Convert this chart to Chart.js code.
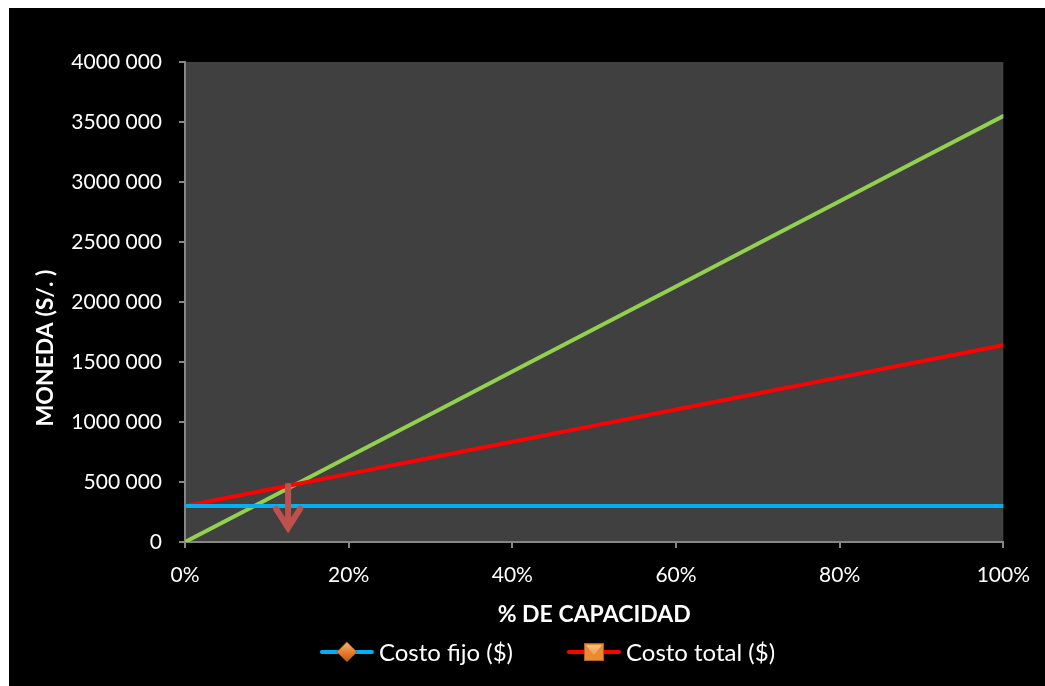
<!DOCTYPE html>
<html>
<head>
<meta charset="utf-8">
<script src="https://cdn.jsdelivr.net/npm/chart.js@4/dist/chart.umd.min.js"></script>
<style>
  html, body { margin: 0; padding: 0; background: #ffffff; }
  #wrap { position: absolute; left: 9px; top: 8px; width: 1036px; height: 678px; background: #000000; }
  canvas { display: block; }
</style>
</head>
<body>
<div id="wrap"><canvas id="c" width="1036" height="678"></canvas></div>
<script>
// % de capacidad utilizada
const capacidad = [0, 10, 20, 30, 40, 50, 60, 70, 80, 90, 100];

// Costos e ingresos en moneda (S/.)
const costoFijo  = [300000, 300000, 300000, 300000, 300000, 300000, 300000, 300000, 300000, 300000, 300000];
const costoTotal = [300000, 434000, 568000, 702000, 836000, 970000, 1104000, 1238000, 1372000, 1506000, 1640000];
const ingresos   = [0, 355000, 710000, 1065000, 1420000, 1775000, 2130000, 2485000, 2840000, 3195000, 3550000];

// Etiquetas de los ejes
const yTickLabels = ['0', '500 000', '1000 000', '1500 000', '2000 000', '2500 000', '3000 000', '3500 000', '4000 000'];
const xTickLabels = ['0%', '20%', '40%', '60%', '80%', '100%'];
const tituloY = 'MONEDA (S/. )';
const tituloX = '% DE CAPACIDAD';

// Flecha que señala el punto de equilibrio (x en %, y en moneda)
const flechaEquilibrio = { x: 12.6, desde: 490000, hasta: 85000 };

const FONT = 'Lato, "Open Sans", sans-serif';
const AXIS_GRAY = '#868686';

// Fondo gris del área de trazado
const plotBackground = {
  id: 'plotBackground',
  beforeDraw(chart) {
    const { ctx, chartArea: a } = chart;
    ctx.save();
    ctx.fillStyle = '#404040';
    ctx.fillRect(a.left, a.top, a.right - a.left, a.bottom - a.top);
    ctx.restore();
  }
};

// Flecha de equilibrio sobre las series
const equilibrioArrow = {
  id: 'equilibrioArrow',
  afterDatasetsDraw(chart) {
    const { ctx, scales } = chart;
    const x = scales.x.getPixelForValue(flechaEquilibrio.x);
    const y1 = scales.y.getPixelForValue(flechaEquilibrio.desde);
    const y2 = scales.y.getPixelForValue(flechaEquilibrio.hasta);
    ctx.save();
    ctx.strokeStyle = '#C0504D';
    ctx.lineWidth = 6;
    ctx.lineCap = 'butt';
    ctx.beginPath();
    ctx.moveTo(x, y1);
    ctx.lineTo(x, y2 - 4);
    ctx.stroke();
    ctx.lineJoin = 'miter';
    ctx.lineCap = 'round';
    ctx.beginPath();
    ctx.moveTo(x - 12, y2 - 23);
    ctx.lineTo(x, y2 - 4);
    ctx.lineTo(x + 12, y2 - 23);
    ctx.stroke();
    ctx.restore();
  }
};

// Título vertical del eje Y
const yAxisTitle = {
  id: 'yAxisTitle',
  afterDraw(chart) {
    const { ctx } = chart;
    ctx.save();
    ctx.translate(37, 340);
    ctx.rotate(-Math.PI / 2);
    ctx.fillStyle = '#ffffff';
    ctx.font = 'bold 23px ' + FONT;
    ctx.textAlign = 'center';
    ctx.textBaseline = 'middle';
    ctx.fillText(tituloY, 0, 0);
    ctx.restore();
  }
};

// Marcadores de la leyenda
function drawDiamond(ctx, cx, cy) {
  const g = ctx.createLinearGradient(cx, cy - 10, cx, cy + 10);
  g.addColorStop(0, '#F6B27A');
  g.addColorStop(0.5, '#E8802E');
  g.addColorStop(1, '#B85A12');
  ctx.fillStyle = g;
  ctx.beginPath();
  ctx.moveTo(cx, cy - 10);
  ctx.lineTo(cx + 10, cy);
  ctx.lineTo(cx, cy + 10);
  ctx.lineTo(cx - 10, cy);
  ctx.closePath();
  ctx.fill();
  ctx.strokeStyle = 'rgba(140,70,20,0.6)';
  ctx.lineWidth = 1;
  ctx.stroke();
}
function drawSquare(ctx, cx, cy) {
  const s = 10;
  ctx.fillStyle = '#E98A35';
  ctx.fillRect(cx - s, cy - 9, 2 * s, 18);
  const g = ctx.createLinearGradient(cx, cy - 9, cx, cy + 4);
  g.addColorStop(0, '#FAC58E');
  g.addColorStop(1, '#F29B4B');
  ctx.fillStyle = g;
  ctx.beginPath();
  ctx.moveTo(cx - s + 2, cy - 7);
  ctx.lineTo(cx + s - 2, cy - 7);
  ctx.lineTo(cx, cy + 3);
  ctx.closePath();
  ctx.fill();
  ctx.strokeStyle = 'rgba(150,80,20,0.7)';
  ctx.lineWidth = 1;
  ctx.strokeRect(cx - s + 0.5, cy - 8.5, 2 * s - 1, 17);
}

// Leyenda inferior: línea de serie con marcador
const customLegend = {
  id: 'customLegend',
  afterDraw(chart) {
    const { ctx } = chart;
    const items = chart.data.datasets.filter(d => d.legendMarker);
    ctx.save();
    ctx.font = '24px ' + FONT;
    const lineLen = 54, textGap = 5, itemGap = 54;
    const widths = items.map(d => lineLen + textGap + ctx.measureText(d.label).width);
    const total = widths.reduce((a, b) => a + b, 0) + itemGap * (items.length - 1);
    let x = 538.5 - total / 2;
    const y = 644;
    items.forEach((d, i) => {
      ctx.strokeStyle = d.borderColor;
      ctx.lineWidth = 4;
      ctx.lineCap = 'round';
      ctx.beginPath();
      ctx.moveTo(x + 2, y);
      ctx.lineTo(x + lineLen - 2, y);
      ctx.stroke();
      if (d.legendMarker === 'diamond') drawDiamond(ctx, x + lineLen / 2, y);
      else drawSquare(ctx, x + lineLen / 2, y);
      ctx.fillStyle = '#ffffff';
      ctx.textAlign = 'left';
      ctx.textBaseline = 'middle';
      ctx.fillText(d.label, x + lineLen + textGap, y + 1);
      x += widths[i] + itemGap;
    });
    ctx.restore();
  }
};

const points = arr => capacidad.map((c, i) => ({ x: c, y: arr[i] }));

new Chart(document.getElementById('c'), {
  type: 'line',
  data: {
    datasets: [
      { label: 'Costo fijo ($)', data: points(costoFijo), borderColor: '#00B0F0', legendMarker: 'diamond' },
      { label: 'Costo total ($)', data: points(costoTotal), borderColor: '#FF0000', legendMarker: 'square' },
      { label: 'Ingresos ($)', data: points(ingresos), borderColor: '#92D050' }
    ].map(d => Object.assign({ borderWidth: 4, pointRadius: 0, tension: 0, borderCapStyle: 'round', fill: false }, d))
  },
  options: {
    responsive: false,
    devicePixelRatio: 1,
    animation: false,
    events: [],
    layout: { padding: { left: 0, right: 41, top: 54, bottom: 56 } },
    plugins: { legend: { display: false }, tooltip: { enabled: false } },
    scales: {
      x: {
        type: 'linear', min: 0, max: 100,
        afterFit(scale) { scale.height = 88; },
        afterBuildTicks(scale) {
          scale.ticks = xTickLabels.map((_, i) => ({ value: i * 20 }));
        },
        ticks: {
          color: '#ffffff', font: { family: FONT, size: 21 }, padding: 15, maxRotation: 0,
          callback: (v, i) => xTickLabels[i]
        },
        grid: { display: true, drawOnChartArea: false, drawTicks: true, tickLength: 6, color: AXIS_GRAY, lineWidth: 2 },
        border: { display: true, color: AXIS_GRAY, width: 2 },
        title: { display: true, text: tituloX, color: '#ffffff', font: { family: FONT, size: 23, weight: 'bold' }, padding: { top: 0, bottom: 2 } }
      },
      y: {
        min: 0, max: 4000000,
        afterFit(scale) { scale.width = 176; },
        afterBuildTicks(scale) {
          scale.ticks = yTickLabels.map((_, i) => ({ value: i * 500000 }));
        },
        ticks: {
          color: '#ffffff', font: { family: FONT, size: 21 }, padding: 17,
          callback: (v, i) => yTickLabels[i]
        },
        grid: { display: true, drawOnChartArea: false, drawTicks: true, tickLength: 6, color: AXIS_GRAY, lineWidth: 2 },
        border: { display: true, color: AXIS_GRAY, width: 2 }
      }
    }
  },
  plugins: [plotBackground, equilibrioArrow, yAxisTitle, customLegend]
});
</script>
</body>
</html>
